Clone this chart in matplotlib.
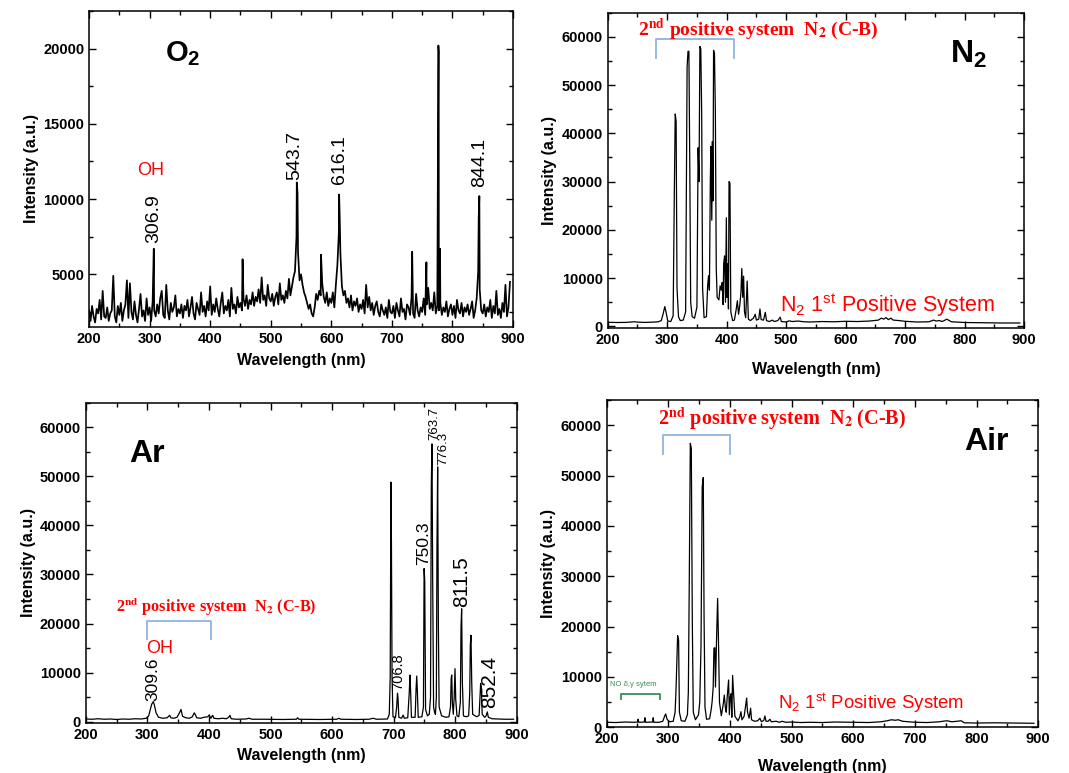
import matplotlib
matplotlib.use('Agg')
import matplotlib.pyplot as plt
import numpy as np
from matplotlib.ticker import MultipleLocator

plt.rcParams['font.family'] = ['Liberation Sans', 'DejaVu Sans']
plt.rcParams['mathtext.fontset'] = 'custom'
plt.rcParams['mathtext.rm'] = 'Liberation Sans'
plt.rcParams['mathtext.bf'] = 'Liberation Sans:bold'
plt.rcParams['mathtext.it'] = 'Liberation Sans:italic'

# ---- O2: noisy baseline read every 2.5 nm from 200 nm, plus the sharp lines
o2_base = [
    2600, 1900, 2900, 2200, 1800, 2700, 2400, 3300, 2000, 3900, 2200, 2100, 2800, 1900, 2400, 2600, 4900, 2200, 1800, 2900,
    2300, 3100, 1900, 2600, 3000, 4600, 2100, 4400, 2500, 2000, 3200, 2300, 1800, 2700, 3700, 2200, 2600, 1900, 3400, 2300,
    2800, 1900, 3200, 2600, 2200, 3000, 2400, 3400, 3900, 2300, 2100, 4300, 2600, 2000, 3100, 2500, 2800, 3600, 2200, 2700,
    2400, 3000, 2100, 2900, 2600, 3300, 2200, 2800, 3500, 2400, 2000, 3100, 2700, 2300, 3800, 2500, 2900, 2200, 3200, 2600,
    4200, 2300, 3000, 2500, 3400, 2700, 2200, 3100, 3800, 2400, 2900, 2600, 3300, 2200, 4100, 2700, 3000, 2400, 3500, 2800,
    3100, 2600, 3400, 2900, 3600, 2700, 3300, 3000, 3800, 2900, 3500, 3200, 4000, 3100, 4800, 3300, 3600, 2900, 4300, 3400,
    3200, 3700, 2900, 3500, 3800, 3000, 4400, 3300, 3600, 3100, 3900, 3400, 4700, 3600, 4200, 4800, 5200, 7500, 6500, 4600,
    5000, 4300, 3800, 3500, 3100, 2700, 3000, 2400, 2200, 2800, 3700, 3300, 3900, 3600, 4400, 3500, 3100, 3800, 2900, 3400,
    3100, 3800, 2800, 4300, 5600, 7800, 6400, 4200, 3600, 3900, 3100, 3400, 2800, 3600, 2600, 3200, 2900, 3400, 2500, 3000,
    2700, 3300, 2400, 4300, 2800, 3500, 2600, 3100, 2300, 2900, 3200, 2500, 2200, 3000, 2600, 2300, 2800, 2100, 3300, 2500,
    2400, 2900, 2100, 3100, 2600, 2200, 3400, 2500, 2700, 2000, 3000, 2800, 2300, 3500, 2400, 2100, 3700, 2600, 2200, 2800,
    2500, 3400, 2300, 3000, 4100, 2700, 3100, 2600, 3800, 2400, 2900, 2600, 3100, 2300, 2800, 2500, 3200, 2200, 2700, 3000,
    2300, 2900, 2100, 3300, 2600, 2400, 3100, 2200, 2800, 2500, 3000, 2300, 2700, 3200, 2100, 2600, 3400, 5200, 4000, 2600,
    2400, 3000, 2200, 2800, 2500, 3300, 2100, 2900, 2400, 3900, 2300, 2700, 2100, 3100, 2500, 4300, 2200, 2800, 4500,
]
o2_peak_wl = [306.9, 453.5, 543.0, 544.2, 583.0, 612.9, 613.9, 733.5, 757.0, 776.8, 777.3, 779.5, 843.4, 844.4]
o2_peak_int = [6700, 6000, 11100, 10400, 6300, 10300, 8700, 6500, 5800, 20200, 19800, 6700, 8800, 10200]

# ---- N2 spectrum (wavelength, intensity)
n2_points = [
    (200, 850), (215, 800), (230, 820), (245, 950), (250, 880), (262, 820), (275, 870), (285, 950),
    (290, 1200), (293, 2500), (296, 4100), (298, 3000), (301, 1100), (306, 1000), (310, 2200),
    (312, 27600), (313.5, 44000), (315, 42500), (316.5, 8000), (319, 2000), (322, 1200), (327, 1300),
    (331, 3000), (333.5, 53800), (335, 57000), (336.5, 57000), (338, 33000), (339.5, 5000), (342, 2000),
    (346, 1700), (350, 4000), (352, 37000), (353.5, 30000), (355, 58000), (356.5, 57500), (358, 44000),
    (359.5, 8000), (362, 1800), (366, 2000), (368, 8400), (369.5, 10500), (371, 7500), (372.5, 30000),
    (373.5, 37300), (375, 22000), (376, 38300), (377, 26000), (378, 57200), (379.5, 56500), (381, 44500),
    (382.5, 12000), (384, 6000), (387, 5500), (389, 8400), (391, 7500), (392.5, 9100), (394, 4500),
    (395, 13000), (396.5, 14600), (398, 5000), (399.5, 22500), (400.5, 6000), (402, 13000), (403, 3600),
    (404, 30000), (405.5, 29700), (407, 3000), (410, 1200), (413, 1300), (416, 3500), (418, 5300),
    (420, 2500), (422, 4300), (424, 7000), (425.5, 12000), (427, 6000), (428.5, 10400), (430, 3000),
    (432, 1800), (434.5, 9400), (436.5, 1500), (440, 1200), (445, 1700), (448, 2500), (450, 1300),
    (454, 1500), (456, 3600), (458, 1400), (462, 1300), (465, 2900), (467, 1200), (472, 1000),
    (477, 1300), (480, 1000), (486, 1200), (490, 1900), (492, 1000), (500, 900), (505, 1150),
    (510, 1000), (520, 1100), (530, 950), (540, 900), (560, 1000), (580, 950), (600, 1050), (620, 1000),
    (640, 1100), (655, 1300), (660, 1700), (664, 1500), (668, 1800), (672, 1400), (676, 1700),
    (680, 1300), (690, 1200), (700, 1050), (720, 900), (740, 950), (748, 1300), (752, 1100),
    (758, 1200), (762, 1000), (766, 1200), (770, 1500), (773, 1300), (778, 950), (800, 800),
    (830, 750), (860, 700), (893, 700),
]

# ---- Ar spectrum
ar_points = [
    (200, 550), (210, 500), (220, 600), (230, 500), (240, 550), (250, 450), (260, 550), (270, 500),
    (280, 600), (290, 550), (298, 700), (302, 1200), (305, 2700), (307, 3600), (309.5, 4100),
    (311, 3500), (314, 1800), (318, 900), (325, 700), (332, 800), (336, 1300), (338, 800), (343, 700),
    (348, 900), (352, 1800), (354.5, 2500), (357, 1100), (362, 800), (368, 700), (373, 1000),
    (376, 1800), (378, 1400), (380, 800), (386, 700), (392, 900), (398, 1000), (400.5, 1400),
    (403, 700), (406, 1300), (408, 700), (415, 600), (422, 700), (428, 600), (432, 900), (434, 1300),
    (436, 600), (445, 500), (460, 550), (465, 700), (470, 500), (490, 500), (520, 450), (542, 500),
    (544, 800), (546, 500), (580, 450), (608, 500), (611, 700), (614, 500), (640, 450), (660, 500),
    (667, 700), (672, 500), (690, 550), (693, 1500), (694.5, 9200), (695.7, 48800), (696.5, 36300),
    (697.5, 9000), (699, 1000), (703, 800), (705, 3000), (706.3, 5800), (707.2, 4800), (708.5, 900),
    (713, 700), (715.5, 1350), (717.5, 700), (723, 800), (725.5, 6000), (726.6, 9500), (727.6, 6500),
    (729, 900), (735, 900), (736.5, 6500), (737.6, 9300), (738.6, 6400), (740, 900), (746, 1000),
    (748.5, 3000), (749.6, 31200), (750.6, 28800), (752, 2500), (755, 1200), (758, 1500), (760, 5000),
    (761.3, 48100), (762.4, 56600), (763.5, 29500), (765, 3000), (766.5, 2000), (768, 1500),
    (769.5, 5000), (770.5, 35600), (771.6, 51900), (772.8, 19300), (774, 3000), (778, 1200),
    (785, 900), (790, 1000), (792.5, 3000), (793.6, 8800), (794.5, 9500), (795.5, 4000), (797, 1500),
    (798.5, 5000), (799.8, 10800), (801, 4500), (803, 1200), (806, 1000), (808.5, 4000),
    (809.6, 19300), (810.6, 23000), (811.8, 8000), (813.5, 1200), (818, 1000), (822, 1200),
    (823.8, 6000), (824.7, 15600), (825.8, 17600), (827, 8000), (828.5, 1500), (835, 1000),
    (839, 1300), (840.5, 5000), (841.5, 7800), (842.6, 7000), (844, 1500), (848, 900), (850.5, 1200),
    (852.3, 2000), (854, 900), (860, 600), (870, 550), (880, 500), (895, 500),
]

# ---- Air spectrum
air_points = [
    (200, 1000), (215, 950), (230, 1050), (245, 1000), (250, 1050), (251, 1600), (252, 1000),
    (261, 1050), (262, 1900), (263, 1000), (274.5, 1050), (275.5, 1900), (276.5, 1000), (285, 1000),
    (291, 1200), (294, 2200), (295.7, 2650), (298, 1600), (302, 1100), (308, 1200), (311, 3000),
    (312.4, 7100), (315.1, 18200), (316.7, 17300), (318, 3000), (321, 1300), (327, 1200), (331, 2500),
    (332.5, 7000), (334, 28900), (335.7, 56400), (337.3, 55400), (338.9, 21300), (340.5, 3000),
    (344, 1500), (349, 2500), (351, 5000), (353, 16000), (355, 47800), (356.7, 49600), (358, 22000),
    (359.5, 4000), (362, 1600), (367, 1700), (369.5, 3500), (371, 5000), (372.8, 8000), (374, 15700),
    (375.5, 15800), (376.5, 8000), (378.4, 18300), (380, 25600), (381.6, 15700), (383, 5000),
    (386, 2300), (389, 4500), (390.8, 6400), (392.5, 4000), (394, 3000), (395.5, 6000), (397.8, 9400),
    (399, 2500), (400.5, 6000), (402, 6700), (403, 2000), (404.3, 10300), (406, 6500), (408, 2200),
    (413, 1300), (416, 2100), (417.8, 3100), (419.5, 1500), (423, 2200), (426, 4800), (427, 5800),
    (428.5, 3000), (431, 1800), (433.5, 3800), (435, 1500), (440, 1200), (445, 1300), (448.6, 1800),
    (451, 1100), (455, 1400), (456.7, 2250), (458.5, 1200), (462, 1200), (464.8, 1600), (467, 1100),
    (475, 1200), (480, 1000), (485, 1200), (490, 1000), (500, 1050), (515, 950), (530, 1000),
    (550, 950), (570, 1050), (600, 1000), (625, 950), (645, 1100), (655, 1300), (662, 1500),
    (668, 1400), (673, 1500), (680, 1200), (700, 1000), (720, 950), (740, 1100), (745, 1200),
    (752, 1300), (760, 1100), (768, 1200), (775, 1300), (780, 900), (800, 850), (830, 900),
    (860, 850), (893, 800),
]

o2_labels = ['306.9', '543.7', '616.1', '844.1']
ar_labels = ['309.6', '706.8', '750.3', '763.7', '776.3', '811.5', '852.4']

RED = '#ff0000'
BRACKET = '#8fb4e0'


def style_axes(ax, ylim, major, minor, xpad):
    ax.set_xlim(200, 900)
    ax.set_ylim(*ylim)
    ax.xaxis.set_major_locator(MultipleLocator(100))
    ax.xaxis.set_minor_locator(MultipleLocator(50))
    ax.yaxis.set_major_locator(MultipleLocator(major))
    ax.yaxis.set_minor_locator(MultipleLocator(minor))
    ax.tick_params(which='both', direction='in', top=True, right=True, labelsize=10.5, width=1)
    ax.tick_params(which='major', length=5)
    ax.tick_params(which='minor', length=3)
    for t in ax.get_xticklabels() + ax.get_yticklabels():
        t.set_fontweight('bold')
    for sp in ax.spines.values():
        sp.set_linewidth(1.1)
    ax.set_xlabel('Wavelength (nm)', fontweight='bold', fontsize=11.5, labelpad=xpad)
    ax.set_ylabel('Intensity (a.u.)', fontweight='bold', fontsize=11.5, labelpad=3)


def serif_note(ax, x, y, size):
    ax.text(x, y, '2$^{\\mathbf{nd}}$ positive system  N$_{\\mathbf{2}}$ (C-B)', color=RED,
            fontsize=size, fontweight='bold', family=['Liberation Serif'],
            math_fontfamily='stix', va='baseline', ha='left')


def bracket(ax, x0, x1, y0, y1, color):
    ax.plot([x0, x0, x1, x1], [y0, y1, y1, y0], color=color, lw=1.3)


fig = plt.figure(figsize=(10.69, 7.73), dpi=100)

# O2
ax1 = fig.add_axes([0.0833, 0.5770, 0.3966, 0.4088])
o2_wl = np.concatenate([200 + 2.5 * np.arange(len(o2_base)), o2_peak_wl])
o2_int = np.concatenate([o2_base, o2_peak_int])
order = np.argsort(o2_wl)
ax1.plot(o2_wl[order], o2_int[order], color='black', lw=1.25)
style_axes(ax1, (1500, 22500), 5000, 2500, 5.5)
ax1.text(326, 19150, 'O$_\\mathbf{2}$', fontsize=21, fontweight='bold', va='baseline')
ax1.text(301, 11600, 'OH', color=RED, fontsize=13, ha='center', va='baseline')
for lab, x, y in zip(o2_labels, [307, 540, 614, 845], [7100, 11300, 11000, 10800]):
    ax1.text(x, y, lab, rotation=90, fontsize=14, ha='center', va='bottom')

# N2
ax2 = fig.add_axes([0.5685, 0.5753, 0.3894, 0.4083])
n2 = np.array(n2_points)
ax2.plot(n2[:, 0], n2[:, 1], color='black', lw=0.9)
style_axes(ax2, (-400, 65000), 10000, 5000, 10.5)
ax2.text(775, 54500, 'N$_\\mathbf{2}$', fontsize=23, fontweight='bold', va='baseline')
serif_note(ax2, 251, 60340, 14)
bracket(ax2, 280.7, 412.4, 55640, 59560, BRACKET)
ax2.text(489, 2900, 'N$_\\mathrm{2}$ 1$^\\mathrm{st}$ Positive System', color=RED, fontsize=15.5,
         va='baseline')

# Ar
ax3 = fig.add_axes([0.0804, 0.0651, 0.4029, 0.4140])
ar = np.array(ar_points)
ax3.plot(ar[:, 0], ar[:, 1], color='black', lw=0.9)
style_axes(ax3, (-200, 65000), 10000, 5000, 4.3)
ax3.text(270, 52900, 'Ar', fontsize=23, fontweight='bold', va='baseline')
serif_note(ax3, 249, 22370, 11.7)
bracket(ax3, 298.6, 403.2, 16750, 20500, BRACKET)
ax3.text(298.6, 13900, 'OH', color=RED, fontsize=13, va='baseline')
ar_pos = [(308.4, 4200, 12.5), (707.7, 6400, 10.5), (749.4, 31900, 12.5), (766, 57300, 9.5),
          (780.8, 52200, 9.5), (810.6, 23400, 15), (856.7, 2700, 15)]
for lab, (x, y, fs) in zip(ar_labels, ar_pos):
    ax3.text(x, y, lab, rotation=90, fontsize=fs, ha='center', va='bottom')

# Air
ax4 = fig.add_axes([0.5675, 0.0591, 0.4037, 0.4234])
air = np.array(air_points)
ax4.plot(air[:, 0], air[:, 1], color='black', lw=0.9)
style_axes(ax4, (0, 65000), 10000, 5000, 9.5)
ax4.text(780, 55000, 'Air', fontsize=23, fontweight='bold', va='baseline')
serif_note(ax4, 284, 60000, 14.5)
bracket(ax4, 290.8, 400.5, 54200, 58150, BRACKET)
bracket(ax4, 222.7, 286.5, 5600, 6550, '#3a8a5a')
ax4.text(205.4, 8600, 'NO δ,γ sytem', color='#3a8a5a', fontsize=5.5, va='center')
ax4.text(478, 3570, 'N$_\\mathrm{2}$ 1$^\\mathrm{st}$ Positive System', color=RED, fontsize=13.4,
         va='baseline')

fig.savefig('out.png', dpi=100)
